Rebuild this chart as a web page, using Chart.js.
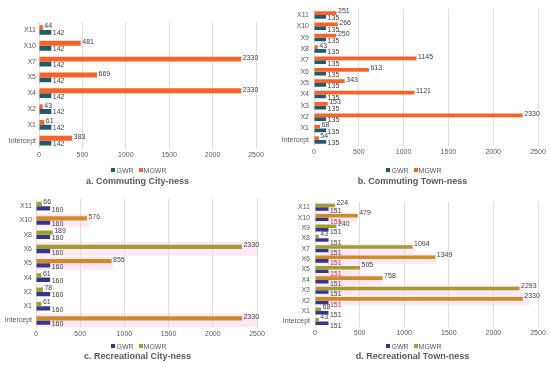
<!DOCTYPE html>
<html>
<head>
<meta charset="utf-8">
<script src="https://cdn.jsdelivr.net/npm/chart.js@4.4.0/dist/chart.umd.min.js"></script>
<style>
    html, body { margin: 0; padding: 0; background: #fff; }
    #wrap { position: relative; width: 550px; height: 367px; overflow: hidden;
            font-family: "Liberation Sans", Arial, sans-serif; color: #595959; }
    canvas { position: absolute; }
    .legend, .caption { position: absolute; width: 275px; text-align: center; white-space: nowrap; }
    .legend { font-size: 7px; line-height: 9px; }
    .legend i { display: inline-block; width: 4px; height: 4px; margin: 0 1px 0 3px; vertical-align: 1px; }
    .caption { font-size: 9px; font-weight: bold; line-height: 11px; }
</style>
</head>
<body>
<div id="wrap">
    <canvas id="chartA" width="275" height="188" style="left:0;top:0"></canvas>
    <canvas id="chartB" width="275" height="188" style="left:275px;top:0"></canvas>
    <canvas id="chartC" width="275" height="179" style="left:0;top:188px"></canvas>
    <canvas id="chartD" width="275" height="179" style="left:275px;top:188px"></canvas>

    <div class="legend" style="left:0;top:165.5px"><i style="background:#1C5C6E"></i>GWR <i style="background:#F8632B"></i>MGWR</div>
    <div class="caption" style="left:0;top:175.5px">a. Commuting City-ness</div>
    <div class="legend" style="left:275px;top:165.5px"><i style="background:#1C5C6E"></i>GWR <i style="background:#F8632B"></i>MGWR</div>
    <div class="caption" style="left:275px;top:175.5px">b. Commuting Town-ness</div>
    <div class="legend" style="left:0;top:341.5px"><i style="background:#33368A"></i>GWR <i style="background:#A09E30"></i>MGWR</div>
    <div class="caption" style="left:0;top:350.5px">c. Recreational City-ness</div>
    <div class="legend" style="left:275px;top:341.5px"><i style="background:#33368A"></i>GWR <i style="background:#A09E30"></i>MGWR</div>
    <div class="caption" style="left:275px;top:350.5px">d. Recreational Town-ness</div>
</div>
<script>
// ---- data ----
const xTicks = [0, 500, 1000, 1500, 2000, 2500];

const catsA = ['X11', 'X10', 'X7', 'X5', 'X4', 'X2', 'X1', 'Intercept'];
const mgwrA = [44, 481, 2330, 669, 2330, 43, 61, 383];
const gwrA = [142, 142, 142, 142, 142, 142, 142, 142];

const catsB = ['X11', 'X10', 'X9', 'X8', 'X7', 'X6', 'X5', 'X4', 'X3', 'X2', 'X1', 'Intercept'];
const mgwrB = [251, 266, 250, 43, 1145, 613, 343, 1121, 153, 2330, 68, 54];
const gwrB = [135, 135, 135, 135, 135, 135, 135, 135, 135, 135, 135, 135];

const catsC = ['X11', 'X10', 'X8', 'X6', 'X5', 'X4', 'X2', 'X1', 'Intercept'];
const mgwrC = [66, 576, 189, 2330, 855, 61, 78, 61, 2330];
const gwrC = [160, 160, 160, 160, 160, 160, 160, 160, 160];
// extent of the pink highlight band behind some rows
const markC = [null, 600, null, 2500, 870, null, null, null, 2500];

const catsD = ['X11', 'X10', 'X9', 'X8', 'X7', 'X6', 'X5', 'X4', 'X3', 'X2', 'X1', 'Intercept'];
const mgwrD = [224, 479, 240, 43, 1094, 1349, 505, 758, 2293, 2330, 68, 43];
const gwrD = [151, 151, 151, 151, 151, 151, 151, 151, 151, 151, 151, 151];
const markD = [250, 480, null, null, 1120, 1360, 510, 760, 2330, 2400, null, null];

// ---- colours ----
const TEAL = '#1C5C6E';
const ORANGE = '#F8632B';
const NAVY = '#33368A';
const OLIVE = '#A09E30';
const GOLD = '#CF8B27';
const TEXT = '#404040';
const RED = '#C0304A';
const PINK = 'rgba(255, 205, 232, 0.45)';

const mgwrColorsC = [OLIVE, GOLD, OLIVE, OLIVE, GOLD, OLIVE, OLIVE, OLIVE, GOLD];
const mgwrColorsD = [OLIVE, GOLD, OLIVE, OLIVE, OLIVE, GOLD, OLIVE, GOLD, OLIVE, GOLD, OLIVE, OLIVE];
const mgwrLabelC = [TEXT, '#8B3A62', TEXT, TEXT, TEXT, TEXT, TEXT, TEXT, TEXT];
const gwrLabelD = [TEXT, RED, TEXT, TEXT, TEXT, RED, RED, TEXT, TEXT, RED, TEXT, TEXT];

const FONT = '"Liberation Sans", Arial, sans-serif';

/**
 * Draw the value next to the end of each bar
 */
const valueLabels = {
    id: 'valueLabels',
    afterDatasetsDraw(chart) {
        const ctx = chart.ctx;
        ctx.save();
        ctx.font = '7px ' + FONT;
        ctx.textBaseline = 'middle';
        ctx.textAlign = 'left';
        chart.data.datasets.forEach((ds, i) => {
            if (ds.isMark) return;
            const meta = chart.getDatasetMeta(i);
            meta.data.forEach((bar, j) => {
                ctx.fillStyle = ds.labelColors ? ds.labelColors[j] : TEXT;
                ctx.fillText(ds.data[j], bar.x + 1.5, bar.y + ds.labelShift);
            });
        });
        ctx.restore();
    }
};

/**
 * Build one horizontal bar panel (legend and caption are HTML below it)
 */
function makePanel(id, opts) {
    const datasets = [
        {
            label: 'MGWR',
            data: opts.mgwr,
            backgroundColor: opts.mgwrColor,
            labelColors: opts.mgwrLabels,
            labelShift: -opts.shift,
            categoryPercentage: opts.catPct,
            barPercentage: 1
        },
        {
            label: 'GWR',
            data: opts.gwr,
            backgroundColor: opts.gwrColor,
            labelColors: opts.gwrLabels,
            labelShift: opts.shift,
            categoryPercentage: opts.catPct,
            barPercentage: 1
        }
    ];
    if (opts.mark) {
        datasets.push({
            label: 'mark',
            isMark: true,
            data: opts.mark,
            backgroundColor: PINK,
            grouped: false,
            order: 10,
            categoryPercentage: 1,
            barPercentage: 0.95
        });
    }

    return new Chart(document.getElementById(id), {
        type: 'bar',
        data: { labels: opts.cats, datasets: datasets },
        options: {
            indexAxis: 'y',
            responsive: false,
            animation: false,
            layout: { padding: opts.padding },
            scales: {
                x: {
                    min: xTicks[0],
                    max: xTicks[xTicks.length - 1],
                    ticks: {
                        stepSize: 500,
                        color: '#595959',
                        font: { size: 7, family: FONT },
                        padding: 2,
                        callback: v => String(v)
                    },
                    grid: { color: '#DDDDDD', drawTicks: false },
                    border: { display: false }
                },
                y: {
                    ticks: { color: '#595959', font: { size: 7, family: FONT }, padding: opts.yPad, autoSkip: false },
                    grid: { display: false, drawTicks: false },
                    border: { display: false },
                    afterFit: scale => { scale.width = opts.yWidth; }
                }
            },
            plugins: {
                legend: { display: false },
                tooltip: { enabled: false }
            }
        },
        plugins: [valueLabels]
    });
}

makePanel('chartA', {
    cats: catsA, mgwr: mgwrA, gwr: gwrA,
    mgwrColor: ORANGE, gwrColor: TEAL,
    catPct: 0.62, shift: 1,
    yWidth: 39, yPad: 3,
    padding: { left: 0, right: 19, top: 22, bottom: 27 }
});

makePanel('chartB', {
    cats: catsB, mgwr: mgwrB, gwr: gwrB,
    mgwrColor: ORANGE, gwrColor: TEAL,
    catPct: 0.66, shift: 1.5,
    yWidth: 39, yPad: 5,
    padding: { left: 0, right: 12, top: 5, bottom: 30 }
});

makePanel('chartC', {
    cats: catsC, mgwr: mgwrC, gwr: gwrC, mark: markC,
    mgwrColor: mgwrColorsC, gwrColor: NAVY, mgwrLabels: mgwrLabelC,
    catPct: 0.6, shift: 1.5,
    yWidth: 36, yPad: 4,
    padding: { left: 0, right: 18, top: 11, bottom: 27 }
});

makePanel('chartD', {
    cats: catsD, mgwr: mgwrD, gwr: gwrD, mark: markD,
    mgwrColor: mgwrColorsD, gwrColor: NAVY, gwrLabels: gwrLabelD,
    catPct: 0.68, shift: 2.5,
    yWidth: 40, yPad: 5,
    padding: { left: 0, right: 12, top: 14, bottom: 28 }
});
</script>
</body>
</html>
